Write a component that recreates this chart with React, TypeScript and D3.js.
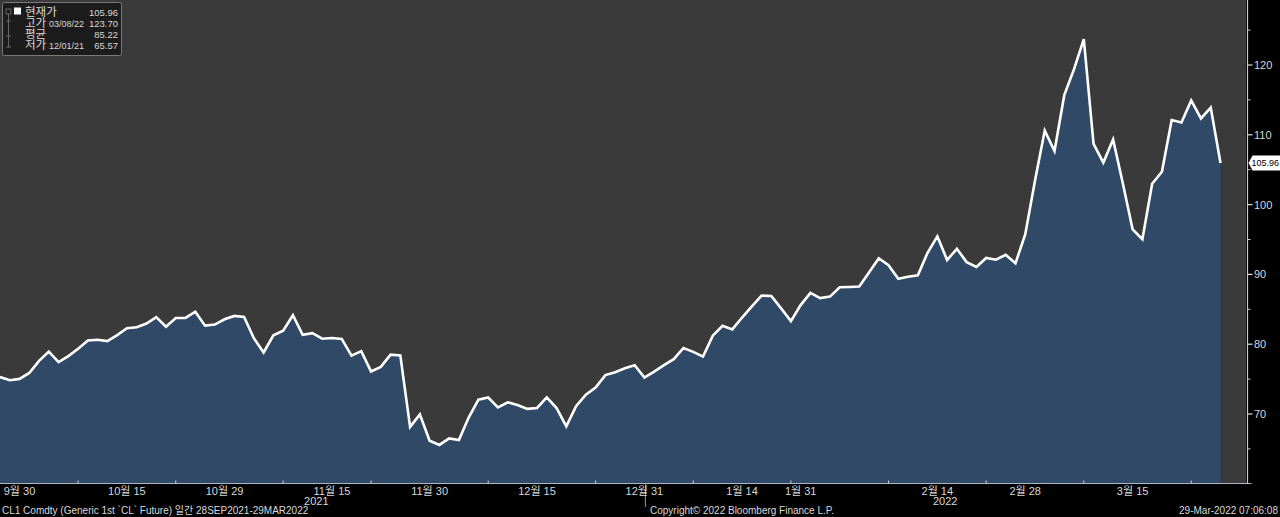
import React from "react";
import * as d3 from "d3";

// CL1 Comdty daily closes, 28 Sep 2021 – 28 Mar 2022 (trading days)
const prices: number[] = [
  75.29, 74.83, 75.03, 75.88, 77.62, 78.93, 77.43, 78.3, 79.35, 80.52,
  80.64, 80.44, 81.31, 82.28, 82.44, 82.96, 83.87, 82.5, 83.76, 83.76,
  84.65, 82.66, 82.81, 83.57, 84.05, 83.91, 80.86, 78.81, 81.27, 81.93,
  84.15, 81.34, 81.59, 80.79, 80.88, 80.76, 78.36, 79.01, 76.1, 76.75,
  78.5, 78.39, 68.15, 69.95, 66.18, 65.57, 66.5, 66.26, 69.49, 72.05,
  72.36, 70.94, 71.67, 71.29, 70.73, 70.87, 72.38, 70.86, 68.23, 71.12,
  72.76, 73.79, 75.57, 75.98, 76.56, 76.99, 75.21, 76.08, 76.99, 77.85,
  79.46, 78.9, 78.23, 81.22, 82.64, 82.12, 83.82, 85.43, 86.96, 86.9,
  85.14, 83.31, 85.6, 87.35, 86.61, 86.82, 88.15, 88.2, 88.26, 90.27,
  92.31, 91.32, 89.36, 89.66, 89.88, 93.1, 95.46, 92.07, 93.66, 91.76,
  91.07, 92.35, 92.1, 92.81, 91.59, 95.72, 103.41, 110.6, 107.67, 115.68,
  119.4, 123.7, 108.7, 106.02, 109.33, 103.01, 96.44, 95.04, 102.98, 104.7,
  112.12, 111.76, 114.93, 112.34, 113.9, 105.96,
];

// x-axis labels (index into prices)
const xLabelIdx: number[] = [2, 13, 23, 34, 44, 55, 66, 76, 82, 96, 105, 116];
const xLabelText: string[] = [
  "9월 30", "10월 15", "10월 29", "11월 15", "11월 30", "12월 15",
  "12월 31", "1월 14", "1월 31", "2월 14", "2월 28", "3월 15",
];
const xMinorIdx: number[] = [8, 18, 29, 38, 50, 61, 71, 81, 91, 101, 111, 122];
const yearLabels: string[] = ["2021", "2022"];
const yearLabelIdx: number[] = [32.4, 96.8];
const yearSepIdx: number[] = [66.1];

const yMajor: number[] = [70, 80, 90, 100, 110, 120];
const yMinor: number[] = [65, 75, 85, 95, 105, 115, 125];

const legendNames: string[] = ["현재가", "고가", "평균", "저가"];
const legendDates: string[] = ["", "03/08/22", "", "12/01/21"];
const legendValues: string[] = ["105.96", "123.70", "85.22", "65.57"];

const W = 1280;
const H = 517;
const plotRight = 1246;
const axisX = 1247.5;
const plotBottom = 483;

const FONT = "'Liberation Sans', Arial, 'Noto Sans CJK KR', sans-serif";
const TXT = "#d9d9d9";

export default function App() {
  const x = d3.scaleLinear().domain([0, prices.length - 1]).range([0, 1220.5]);
  const y = d3.scaleLinear().domain([70, 120]).range([414, 65]);

  const area = d3
    .area<number>()
    .x((_, i) => x(i))
    .y0(plotBottom)
    .y1((d) => y(d));
  const line = d3
    .line<number>()
    .x((_, i) => x(i))
    .y((d) => y(d));

  const last = prices[prices.length - 1];
  const ly = y(last);

  return (
    <div style={{ position: "fixed", left: 0, top: 0, width: W, height: H, background: "#000" }}>
      <svg width={W} height={H} style={{ display: "block" }} fontFamily={FONT}>
        <rect x={0} y={0} width={W} height={H} fill="#000" />
        <rect x={0} y={0} width={plotRight} height={plotBottom} fill="#3a3a3a" />
        <path d={area(prices) || ""} fill="#2f4966" />
        <path
          d={line(prices) || ""}
          fill="none"
          stroke="#ffffff"
          strokeWidth={2.6}
          strokeLinejoin="miter"
        />

        {/* x axis line */}
        <line x1={0} x2={axisX + 4} y1={plotBottom + 0.5} y2={plotBottom + 0.5} stroke="#a9b7c9" strokeWidth={1.2} />
        {xMinorIdx.map((i) => (
          <line key={"xm" + i} x1={x(i)} x2={x(i)} y1={plotBottom} y2={plotBottom - 2.5} stroke="#cfd8e3" strokeWidth={1} />
        ))}
        {yearSepIdx.map((i) => (
          <line key={"ys" + i} x1={x(i)} x2={x(i)} y1={plotBottom} y2={507} stroke="#9a9a9a" strokeWidth={1} />
        ))}
        {xLabelIdx.map((i, k) => (
          <text key={"xl" + i} x={x(i)} y={495} fill={TXT} fontSize={11} textAnchor="middle">
            {xLabelText[k]}
          </text>
        ))}
        {yearLabelIdx.map((i, k) => (
          <text key={"yl" + k} x={x(i)} y={505} fill={TXT} fontSize={11} textAnchor="middle">
            {yearLabels[k]}
          </text>
        ))}

        {/* y axis */}
        <line x1={axisX} x2={axisX} y1={0} y2={plotBottom + 1} stroke="#c8c8c8" strokeWidth={1.2} />
        {yMinor.map((v) => (
          <line key={"ym" + v} x1={axisX} x2={axisX + 3} y1={y(v)} y2={y(v)} stroke="#c8c8c8" strokeWidth={1} />
        ))}
        {yMajor.map((v) => (
          <g key={"yM" + v}>
            <line x1={axisX} x2={axisX + 5} y1={y(v)} y2={y(v)} stroke="#e0e0e0" strokeWidth={1.2} />
            <text x={1254} y={y(v) + 4} fill={TXT} fontSize={11}>
              {v}
            </text>
          </g>
        ))}

        {/* current price tag */}
        <path
          d={`M${axisX + 1},${ly} L${axisX + 5},${ly - 7.5} L${W},${ly - 7.5} L${W},${ly + 7.5} L${axisX + 5},${ly + 7.5} Z`}
          fill="#ffffff"
        />
        <text x={1251.5} y={ly + 3.5} fill="#000" fontSize={9}>
          {last.toFixed(2)}
        </text>

        {/* legend */}
        <rect x={2.5} y={2.5} width={119} height={53} rx={2} fill="#1c1c1c" stroke="#7a7a7a" strokeWidth={1} />
        <rect x={6} y={9} width={5} height={5} fill="none" stroke="#777" strokeWidth={0.8} />
        <line x1={8.5} x2={8.5} y1={14} y2={47} stroke="#666" strokeWidth={1} />
        <line x1={6} x2={11} y1={47} y2={47} stroke="#666" strokeWidth={1} />
        <line x1={6} x2={11} y1={21} y2={21} stroke="#666" strokeWidth={1} />
        <line x1={6} x2={11} y1={36} y2={36} stroke="#666" strokeWidth={1} />
        <rect x={14} y={7.5} width={7} height={7} fill="#ffffff" />
        {legendNames.map((n, k) => (
          <g key={"lg" + k}>
            <text x={25} y={15.5 + k * 11} fill={TXT} fontSize={11.5}>
              {n}
            </text>
            {legendDates[k] ? (
              <text x={49} y={15.5 + k * 11} fill={TXT} fontSize={9}>
                {legendDates[k]}
              </text>
            ) : null}
            <text x={118} y={15.5 + k * 11} fill={TXT} fontSize={9.5} textAnchor="end">
              {legendValues[k]}
            </text>
          </g>
        ))}

        {/* footer */}
        <text x={2} y={514} fill={TXT} fontSize={10}>
          CL1 Comdty (Generic 1st `CL` Future) 일간 28SEP2021-29MAR2022
        </text>
        <text x={650} y={514} fill={TXT} fontSize={10}>
          Copyright© 2022 Bloomberg Finance L.P.
        </text>
        <text x={1278} y={514} fill={TXT} fontSize={10} textAnchor="end">
          29-Mar-2022 07:06:08
        </text>
      </svg>
    </div>
  );
}
